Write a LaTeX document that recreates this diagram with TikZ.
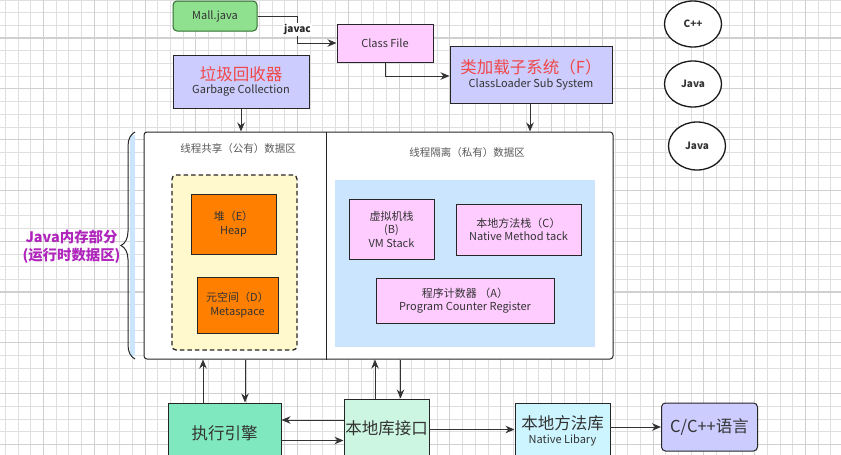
\documentclass[tikz,border=0pt]{standalone}
\usepackage{fontspec}
\setmainfont{Noto Sans CJK SC}
\usetikzlibrary{arrows.meta,decorations.pathreplacing,shapes.geometric}
\definecolor{gridminor}{HTML}{DFDFDF}
\definecolor{gridmajor}{HTML}{D0D0D0}
\definecolor{mallgreen}{HTML}{8FE08F}
\definecolor{malldark}{HTML}{2D6E2D}
\definecolor{pinkfill}{HTML}{FFCCFF}
\definecolor{lavender}{HTML}{CCCCFF}
\definecolor{orangefill}{HTML}{FF8000}
\definecolor{yellowfill}{HTML}{FFF9CD}
\definecolor{bluefill}{HTML}{CCE5FF}
\definecolor{enginegreen}{HTML}{80E8BE}
\definecolor{mintfill}{HTML}{CCF5E2}
\definecolor{cyanfill}{HTML}{CCF5FF}
\definecolor{redtext}{HTML}{F04848}
\definecolor{purpletext}{HTML}{B026BC}
\newcommand{\bigtext}{\fontsize{16.5}{19}\selectfont}
\newcommand{\smalltext}{\fontsize{11}{13.5}\selectfont}

\begin{document}
\begin{tikzpicture}[x=1pt, y=-1pt, font=\smalltext, line join=miter,
  minorgrid/.style={draw=gridminor, line width=1pt},
  majorgrid/.style={draw=gridmajor, line width=1.1pt},
  box/.style={draw=black!85, line width=1pt, align=center, text=black!80, inner sep=0pt},
  bubble/.style={ellipse, draw=black!90, line width=1.3pt, fill=white, inner sep=0pt, font=\bfseries\fontsize{10}{12}\selectfont, text=black!80},
  regiontitle/.style={text=black!65, font=\fontsize{10.5}{12}\selectfont},
  arr/.style={-{Stealth[length=9pt,width=7.5pt]}, line width=1pt, draw=black!80}]
  \useasboundingbox (0,0) rectangle (841,455);
  \clip (0,0) rectangle (841,455);
  \fill[white] (0,0) rectangle (841,455);

  \foreach \gx in {0,...,65} \draw[minorgrid] (5.4+12.7*\gx,0) -- (5.4+12.7*\gx,455);
  \foreach \gy in {0,...,36} \draw[minorgrid] (0,12.7*\gy) -- (841,12.7*\gy);
  \foreach \gx in {0,...,16} \draw[majorgrid] (43.5+50.8*\gx,0) -- (43.5+50.8*\gx,455);
  \foreach \gy in {0,...,8} \draw[majorgrid] (0,38+50.8*\gy) -- (841,38+50.8*\gy);

  \node[box, fill=mallgreen, draw=malldark, rounded corners=4pt, minimum width=84pt, minimum height=30pt] (mall) at (215,16) {Mall.java};
  \node[box, fill=pinkfill, minimum width=96pt, minimum height=38pt] (classfile) at (385,43) {Class File};
  \node[box, fill=lavender, minimum width=162pt, minimum height=57pt] (loader) at (531,74.5) {\textcolor{redtext}{\bigtext 类加载子系统（F）}\\ ClassLoader Sub System};
  \node[box, fill=lavender, minimum width=136pt, minimum height=53pt] (gc) at (241,81.5) {\textcolor{redtext}{\bigtext 垃圾回收器}\\ Garbage Collection};

  \node[bubble, minimum width=57pt, minimum height=46pt] (cpp) at (693,24) {C++};
  \node[bubble, minimum width=57pt, minimum height=46pt] (javaone) at (693,84) {Java};
  \node[bubble, minimum width=57pt, minimum height=48pt] (javatwo) at (697,146) {Java};

  \draw[arr] (mall.east) -- ++(40,0) |- node[pos=0.25, fill=white, inner sep=1pt, font=\bfseries\fontsize{10}{12}\selectfont, text=black!85] {javac} (classfile.west);
  \draw[arr] (classfile.south) |- ([yshift=-1.5pt]loader.west);

  \node[draw=black!85, line width=1pt, fill=white, rounded corners=3pt, minimum width=469pt, minimum height=227pt] (main) at (378.5,245.5) {};
  \draw[line width=1pt, draw=black!85] ([xshift=-51.8pt]main.north) -- ([xshift=-51.8pt]main.south);
  \node[regiontitle] (sharedtitle) at (238,149) {线程共享（公有）数据区};
  \node[regiontitle] (privatetitle) at (467,153) {线程隔离（私有）数据区};

  \node[draw=black!85, dashed, dash pattern=on 4.5pt off 3pt, line width=1.3pt, fill=yellowfill, rounded corners=4pt, minimum width=125pt, minimum height=175pt] (shared) at (234.5,262.5) {};
  \node[box, fill=orangefill, minimum width=85pt, minimum height=60pt] (heap) at (233.5,224) {堆（E）\\ Heap};
  \node[box, fill=orangefill, minimum width=81pt, minimum height=56pt] (meta) at (237.5,305) {元空间（D）\\ Metaspace};

  \node[fill=bluefill, minimum width=260pt, minimum height=167pt] (private) at (465,263.5) {};
  \node[box, fill=pinkfill, minimum width=85pt, minimum height=60pt] (vmstack) at (391.5,229) {虚拟机栈\\ (B)\\ VM Stack};
  \node[box, fill=pinkfill, minimum width=125pt, minimum height=51pt] (nmstack) at (518.5,229.5) {本地方法栈（C）\\ Native Method tack};
  \node[box, fill=pinkfill, minimum width=178pt, minimum height=45pt] (pcreg) at (465,300.5) {程序计数器 （A）\\ Program Counter Register};

  \fill[bluefill] (130,135) rectangle (135,356);
  \draw[decorate, decoration={brace, amplitude=14pt}, line width=1pt, draw=black!85] (135,359) -- (135,132);
  \node[align=center, text=purpletext, font=\bfseries\fontsize{14.4}{17.5}\selectfont] (memory) at (71.5,246.5) {Java内存部分\\(运行时数据区)};

  \draw[arr] (gc.south) -- (gc.south |- main.north);
  \draw[arr] ([xshift=-1pt]loader.south) -- ([xshift=-1pt]loader.south |- main.north);

  \node[box, fill=enginegreen, minimum width=113pt, minimum height=60pt, font=\bigtext] (engine) at (224.5,433) {执行引擎};
  \node[box, fill=mintfill, minimum width=85pt, minimum height=58pt, font=\bigtext] (jni) at (386.5,428) {本地库接口};
  \node[box, fill=cyanfill, minimum width=95pt, minimum height=56pt] (natlib) at (562.5,431) {{\bigtext 本地方法库}\\ Native Libary};
  \node[box, fill=lavender, rounded corners=4pt, minimum width=96pt, minimum height=48pt, font=\bigtext] (clang) at (709.5,427) {C/C++语言};

  \draw[arr] ([xshift=-21.5pt]engine.north) -- ([xshift=-21.5pt]engine.north |- main.south);
  \draw[arr] ([xshift=20.5pt]engine.north |- main.south) -- ([xshift=20.5pt]engine.north);
  \draw[arr] ([xshift=-11.5pt]jni.north) -- ([xshift=-11.5pt]jni.north |- main.south);
  \draw[arr] ([xshift=14pt]jni.north |- main.south) -- ([xshift=14pt]jni.north);
  \draw[arr] ([yshift=8pt]jni.west) -- ([yshift=8pt]jni.west -| engine.east);
  \draw[arr] ([yshift=-12.5pt]jni.west -| engine.east) -- ([yshift=-12.5pt]jni.west);
  \draw[arr] ([yshift=-1.5pt]jni.east) -- ([yshift=-1.5pt]jni.east -| natlib.west);
  \draw[arr] (clang.west -| natlib.east) -- (clang.west);
\end{tikzpicture}
\end{document}
